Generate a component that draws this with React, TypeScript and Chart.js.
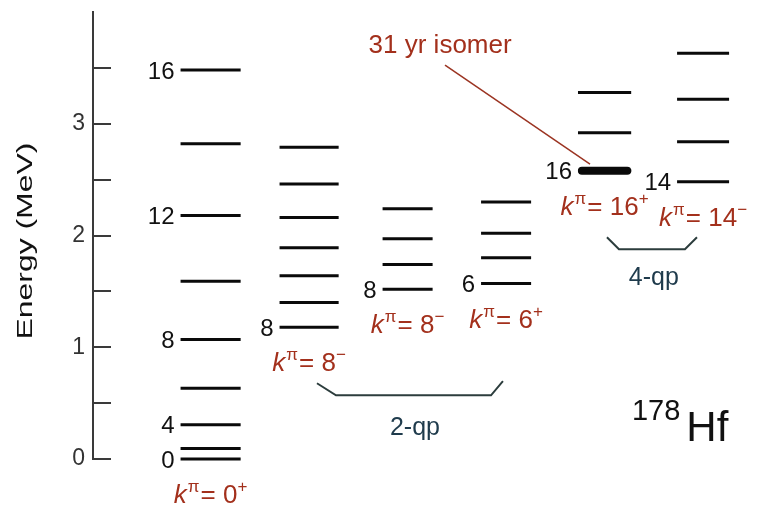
import React, { useEffect, useRef } from "react";
import { Chart, registerables } from "chart.js";

Chart.register(...registerables);

// ---------------- data ----------------
const bandNames = ["ground", "K8a", "K8b", "K6", "K16", "K14"];
const kValues = ["0", "8", "8", "6", "16", "14"];
const kParities = ["+", "\u2212", "\u2212", "+", "+", "\u2212"];

const groundEnergies = [0, 0.093, 0.307, 0.632, 1.07, 1.59, 2.18, 2.82, 3.48];
const groundSpins = [0, 2, 4, 6, 8, 10, 12, 14, 16];
const k8aEnergies = [1.18, 1.4, 1.64, 1.89, 2.16, 2.46, 2.79];
const k8aSpins = [8, 9, 10, 11, 12, 13, 14];
const k8bEnergies = [1.52, 1.74, 1.97, 2.24];
const k8bSpins = [8, 9, 10, 11];
const k6Energies = [1.57, 1.8, 2.02, 2.3];
const k6Spins = [6, 7, 8, 9];
const k16Energies = [2.58, 2.92, 3.28];
const k16Spins = [16, 17, 18];
const k14Energies = [2.48, 2.84, 3.22, 3.63];
const k14Spins = [14, 15, 16, 17];

const yLabelledTicks = [0, 1, 2, 3];
const yTitle = "Energy (MeV)";
const isomerBand = 4;
const isomerLevel = 0;
const isomerLabel = "31 yr isomer";
const qpLabels = ["2-qp", "4-qp"];
const nucleusMass = "178";
const nucleusSymbol = "Hf";

const bandEnergies = [groundEnergies, k8aEnergies, k8bEnergies, k6Energies, k16Energies, k14Energies];
const bandSpins = [groundSpins, k8aSpins, k8bSpins, k6Spins, k16Spins, k14Spins];

// ---------------- layout / style ----------------
const FONT = "'Liberation Sans', Arial, Helvetica, sans-serif";
const RED = "#a3301c";
const QP_COLOR = "#1f3b4c";
const BRACKET_COLOR = "#2c3d3d";
const AXIS_COLOR = "#3a3a3a";
const LEVEL_COLOR = "#0a0a0a";
const halfWidths = [0.305, 0.3, 0.254, 0.254, 0.27, 0.264];

// annotation geometry in data units (x: band index, y: MeV)
const bracketShapes = [
  [
    [1.08, 0.678],
    [1.273, 0.57],
    [2.847, 0.57],
    [2.968, 0.696],
  ],
  [
    [4.024, 1.985],
    [4.146, 1.877],
    [4.816, 1.877],
    [4.938, 1.985],
  ],
];
const qpTextPos = [
  [2.075, 0.212],
  [4.5, 1.555],
];
const isomerPointer = [
  [2.38, 3.525],
  [3.852, 2.638],
];
const isomerTextPos = [2.33, 3.632];
const massPos = [4.278, 0.346];
const symbolBaseline = 0.158;
const yTitleCenter = 1.95;

function levelSegments(band: number, energies: number[], hw: number) {
  const pts: { x: number; y: number | null }[] = [];
  energies.forEach((e) => {
    pts.push({ x: band - hw, y: e }, { x: band + hw, y: e }, { x: band, y: null });
  });
  return pts;
}

function drawK(ctx: CanvasRenderingContext2D, cx: number, baseline: number, value: string, parity: string) {
  const big = `26px ${FONT}`;
  const small = `17px ${FONT}`;
  const parts = [
    { t: "k", f: `italic ${big}`, dy: 0, gap: 1 },
    { t: "\u03c0", f: small, dy: -11, gap: 1 },
    { t: "= " + value, f: big, dy: 0, gap: 0 },
    { t: parity, f: small, dy: -11, gap: 0 },
  ];
  let total = 0;
  const widths = parts.map((p) => {
    ctx.font = p.f;
    const w = ctx.measureText(p.t).width + p.gap;
    total += w;
    return w;
  });
  let x = cx - total / 2;
  ctx.fillStyle = RED;
  ctx.textAlign = "left";
  ctx.textBaseline = "alphabetic";
  parts.forEach((p, i) => {
    ctx.font = p.f;
    ctx.fillText(p.t, x, baseline + p.dy);
    x += widths[i];
  });
}

const annotatePlugin = {
  id: "annotate",
  afterDatasetsDraw(chart: any) {
    const { ctx, chartArea } = chart;
    const xs = chart.scales.x;
    const ys = chart.scales.y;
    ctx.save();

    // inward tick marks
    ctx.strokeStyle = AXIS_COLOR;
    ctx.lineWidth = 2;
    ys.ticks.forEach((t: any) => {
      if (t.value >= 4) return;
      const py = Math.round(ys.getPixelForValue(t.value));
      ctx.beginPath();
      ctx.moveTo(chartArea.left, py);
      ctx.lineTo(chartArea.left + 18, py);
      ctx.stroke();
    });

    // y axis title (stretched along its direction as in the original)
    ctx.save();
    ctx.translate(32, ys.getPixelForValue(yTitleCenter));
    ctx.rotate(-Math.PI / 2);
    ctx.scale(1.45, 1);
    ctx.font = `22px ${FONT}`;
    ctx.fillStyle = "#111";
    ctx.textAlign = "center";
    ctx.textBaseline = "alphabetic";
    ctx.fillText(yTitle, 0, 0);
    ctx.restore();

    // spin labels
    ctx.font = `24px ${FONT}`;
    ctx.fillStyle = "#111";
    ctx.textAlign = "right";
    ctx.textBaseline = "alphabetic";
    bandEnergies.forEach((energies, b) => {
      energies.forEach((e, i) => {
        const spin = bandSpins[b][i];
        const show = b === 0 ? spin % 4 === 0 : i === 0;
        if (!show) return;
        const px = xs.getPixelForValue(b - halfWidths[b]) - 6;
        const py = ys.getPixelForValue(e) + 8.5;
        ctx.fillText(String(spin), px, py);
      });
    });

    // K^pi labels
    bandEnergies.forEach((energies, b) => {
      const cx = xs.getPixelForValue(b);
      const baseline = ys.getPixelForValue(energies[0]) + 44;
      drawK(ctx, cx, baseline, kValues[b], kParities[b]);
    });

    // qp labels
    ctx.font = `25px ${FONT}`;
    ctx.fillStyle = QP_COLOR;
    ctx.textAlign = "center";
    qpLabels.forEach((l, i) => {
      ctx.fillText(l, xs.getPixelForValue(qpTextPos[i][0]), ys.getPixelForValue(qpTextPos[i][1]));
    });

    // isomer text
    ctx.font = `26px ${FONT}`;
    ctx.fillStyle = RED;
    ctx.textAlign = "center";
    ctx.fillText(isomerLabel, xs.getPixelForValue(isomerTextPos[0]), ys.getPixelForValue(isomerTextPos[1]));

    // nucleus label
    ctx.fillStyle = "#111";
    ctx.textAlign = "left";
    ctx.font = `29px ${FONT}`;
    const mx = xs.getPixelForValue(massPos[0]);
    ctx.fillText(nucleusMass, mx, ys.getPixelForValue(massPos[1]));
    const mw = ctx.measureText(nucleusMass).width;
    ctx.font = `42px ${FONT}`;
    ctx.fillText(nucleusSymbol, mx + mw + 6, ys.getPixelForValue(symbolBaseline));

    ctx.restore();
  },
};

export default function App() {
  const ref = useRef<HTMLCanvasElement>(null);

  useEffect(() => {
    if (!ref.current) return;
    const datasets: any[] = [];
    bandEnergies.forEach((energies, b) => {
      datasets.push({
        label: bandNames[b],
        data: levelSegments(b, energies, halfWidths[b]),
        showLine: true,
        spanGaps: false,
        borderColor: LEVEL_COLOR,
        borderWidth: 3,
        borderCapStyle: "butt",
        pointRadius: 0,
        clip: false,
      });
    });
    // isomer (thick)
    const isoHw = halfWidths[isomerBand] - 0.04;
    datasets.push({
      label: "isomer",
      data: levelSegments(isomerBand, [bandEnergies[isomerBand][isomerLevel]], isoHw),
      showLine: true,
      borderColor: LEVEL_COLOR,
      borderWidth: 8,
      borderCapStyle: "round",
      pointRadius: 0,
      clip: false,
    });
    // brackets
    bracketShapes.forEach((shape, i) => {
      datasets.push({
        label: qpLabels[i] + " bracket",
        data: shape.map(([x, y]) => ({ x, y })),
        showLine: true,
        borderColor: BRACKET_COLOR,
        borderWidth: 2,
        pointRadius: 0,
        tension: 0,
        clip: false,
      });
    });
    // isomer pointer
    datasets.push({
      label: "pointer",
      data: isomerPointer.map(([x, y]) => ({ x, y })),
      showLine: true,
      borderColor: "#9b3422",
      borderWidth: 1.5,
      pointRadius: 0,
      clip: false,
    });

    const chart = new Chart(ref.current, {
      type: "scatter",
      data: { datasets },
      options: {
        animation: false,
        responsive: false,
        devicePixelRatio: 1,
        events: [],
        layout: { padding: { left: 0, right: 0, top: 12, bottom: 50 } },
        plugins: { legend: { display: false }, tooltip: { enabled: false } },
        scales: {
          x: { type: "linear", min: -1.194, max: 5.649, display: false },
          y: {
            type: "linear",
            min: 0,
            max: 4,
            afterFit: (scale: any) => {
              scale.width = 93;
              scale.paddingTop = 0;
              scale.paddingBottom = 0;
            },
            grid: { display: false, drawTicks: false },
            border: { display: true, color: AXIS_COLOR, width: 2 },
            ticks: {
              stepSize: 0.5,
              padding: 8,
              color: "#333",
              font: { family: FONT, size: 23 },
              callback: (v: any) => (yLabelledTicks.includes(Number(v)) ? String(v) : ""),
            },
          },
        },
      },
      plugins: [annotatePlugin],
    });
    return () => chart.destroy();
  }, []);

  return (
    <div style={{ position: "fixed", left: 0, top: 0, width: 767, height: 509, background: "#fff" }}>
      <canvas ref={ref} width={767} height={509} style={{ display: "block", width: 767, height: 509 }} />
    </div>
  );
}
